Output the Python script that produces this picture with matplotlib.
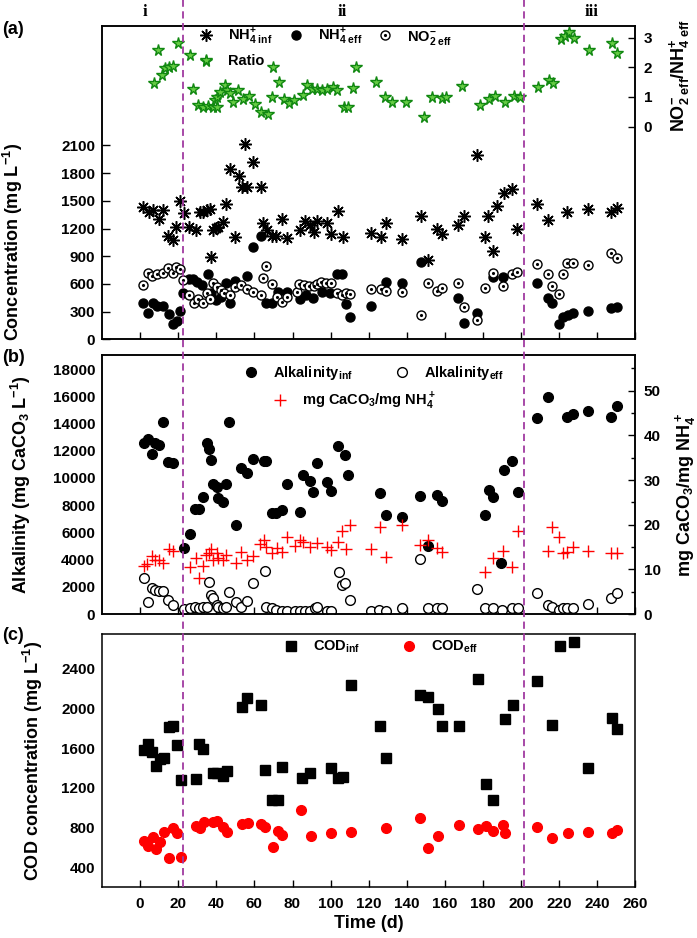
import numpy as np
import matplotlib.pyplot as plt
from matplotlib.lines import Line2D
from matplotlib.transforms import blended_transform_factory

plt.rcParams['font.family'] = ['Liberation Sans', 'DejaVu Sans']
plt.rcParams['font.weight'] = 'bold'
plt.rcParams['axes.labelweight'] = 'bold'
plt.rcParams['mathtext.fontset'] = 'custom'
plt.rcParams['mathtext.rm'] = 'Liberation Sans:bold'
plt.rcParams['mathtext.it'] = 'Liberation Sans:bold'
plt.rcParams['mathtext.bf'] = 'Liberation Sans:bold'
plt.rcParams['mathtext.default'] = 'regular'
plt.rcParams['axes.linewidth'] = 1.1

# ---- panel (a): ammonium / nitrite ----
nh4_inf_day = [1.7, 4.9, 7, 10.1, 12.2, 14.9, 17.1, 18.9, 21, 23.1, 25.9, 29.4, 31.5, 33.2, 35.3, 36.7,
               37.1, 38.1, 39.9, 41.1, 43.4, 45.1, 47.2, 49.8, 52.1, 53.3, 55.1, 55.9, 59.4, 63.3, 64.7,
               66.4, 69.1, 71.3, 74.3, 77.3, 83.9, 86.5, 89.2, 91.3, 93, 97.9, 100, 104, 106.3, 121,
               126.5, 129, 137.3, 147.3, 151.3, 156, 158.3, 167, 170, 177, 181, 182.8, 185.1, 187.2,
               191, 195.1, 198, 208.2, 214.3, 224.3, 235.3, 247, 250.1]
nh4_inf = [1431, 1384, 1402, 1301, 1402, 1120, 1077, 1222, 1493, 1366, 1222, 1185, 1384, 1384, 1402, 1413,
           889, 1185, 1211, 1222, 1276, 1467, 1843, 1106, 1764, 1648, 2118, 1655, 1923, 1655, 1265,
           1185, 1120, 1120, 1301, 1095, 1185, 1287, 1240, 1167, 1287, 1265, 1142, 1395, 1113, 1157,
           1113, 1258, 1084, 1337, 860, 1193, 1142, 1240, 1337, 1999, 1113, 1337, 961, 1446,
           1583, 1626, 1196, 1467, 1294, 1381, 1417, 1384, 1420]

nh4_eff_day = [1.7, 4.4, 6.6, 9.1, 11.9, 15.2, 17.1, 19.2, 21, 22.7, 25.9, 28, 30.1, 32.3, 35.8, 37.1,
               39.9, 42.3, 45.1, 47.2, 49.8, 55.9, 59.1, 63.3, 66.1, 69.1, 72.6, 76.9, 83.9, 87.1, 90.9,
               95.3, 99.7, 103.5, 105.8, 108, 110.1, 121, 129, 137.3, 147.3, 167, 170, 177, 185.4,
               190.3, 208.2, 214.3, 216.2, 220.1, 222.2, 224.8, 227.1, 235.3, 247, 250.1]
nh4_eff = [398, 282, 390, 361, 361, 275, 166, 202, 311, 506, 654, 651, 625, 589, 708, 499,
           426, 463, 607, 398, 636, 690, 1005, 1120, 390, 390, 517, 517, 434, 481, 445,
           517, 499, 708, 708, 383, 246, 361, 625, 607, 842, 445, 173, 289, 679,
           672, 607, 445, 390, 166, 239, 264, 282, 311, 336, 354]

no2_day = [1.7, 4, 6.1, 8.7, 12.2, 14.9, 17.1, 18.9, 21, 22.7, 25.9, 28.3, 30.6, 33.2, 35.3, 36.7,
           38.5, 40.6, 42.3, 44.1, 47.2, 49.8, 52.8, 55.9, 59.4, 63.3, 64.7, 66.1, 69.1, 72, 74.3,
           76.9, 82.2, 83.6, 86, 88.8, 91.3, 93, 94.8, 97.6, 100, 103.5, 105.8, 108, 110.1, 121,
           126.2, 129, 137.3, 147.3, 151.3, 156, 158.3, 167, 170, 177, 181, 185.4, 190.3, 195.1,
           198, 208.2, 214.3, 216.2, 220.1, 222.2, 224.3, 227.1, 235.3, 247, 250.1]
no2_eff = [589, 723, 687, 708, 723, 777, 723, 788, 759, 643, 481, 398, 434, 398, 506, 434,
           607, 571, 535, 506, 481, 571, 589, 542, 517, 481, 661, 795, 600, 463, 408,
           463, 517, 600, 589, 578, 578, 600, 625, 614, 614, 499, 481, 506, 488, 542,
           542, 524, 517, 264, 607, 528, 553, 607, 354, 210, 553, 723, 578, 708,
           734, 817, 708, 578, 492, 708, 824, 831, 802, 932, 885]

ratio_day = [7.5, 9.2, 11.3, 13.1, 15.3, 17.4, 20.1, 26.2, 27.9, 30.6, 33.2, 34.6, 35.8, 38.1, 39.3,
             40.2, 40.6, 42, 44.6, 45.4, 47.2, 48.9, 51.6, 54.2, 57.3, 60.3, 63.3, 67.3, 69.1, 69.9,
             73.1, 75.7, 78.3, 81, 85.3, 87.8, 90.1, 92.7, 95.3, 98.3, 101.4, 103.5, 107, 109.3,
             111.6, 113.3, 123.8, 128.6, 132, 139.6, 149, 153, 158.3, 160.6, 168.8, 178.5, 183.2,
             186.3, 191.6, 196.3, 199.4, 209.1, 214.8, 217, 220.8, 223.1, 225.2, 228, 235.7,
             247.6, 250.6]
ratio = [1.46, 2.59, 1.74, 1.97, 2.02, 2.04, 2.83, 2.41, 1.27, 0.73, 0.65, 2.23, 0.70, 0.65, 0.90,
         1.01, 0.65, 1.18, 1.40, 1.24, 1.13, 0.84, 1.24, 0.92, 1.03, 0.78, 0.51, 0.43, 1.01, 2.02,
         1.52, 0.92, 0.79, 0.90, 1.07, 1.41, 1.26, 1.26, 1.24, 1.26, 1.33, 1.24, 0.67, 0.67,
         1.29, 2.0, 1.52, 1.01, 0.82, 0.82, 0.32, 0.99, 0.96, 0.99, 1.37, 0.73, 0.92,
         1.03, 0.84, 1.03, 1.01, 1.33, 1.57, 1.46, 2.94, 3.06, 3.18, 2.98, 2.59,
         2.81, 2.49]

# ---- panel (b): alkalinity ----
alk_inf_day = [2, 4.3, 6.1, 7.8, 10.1, 12.2, 14.8, 17.1, 23, 26.2, 28.8, 31.1, 33.2, 35, 36.4, 37.1,
               38.1, 40.2, 41.1, 43.4, 45.1, 46.9, 50.4, 52.8, 56, 59.1, 65, 66.1, 69.1, 71.3, 74.3,
               76.9, 83.9, 85.7, 89.2, 91, 93, 97.9, 100, 104.1, 107.6, 109.3, 125.9, 129, 137.3,
               147, 151.3, 156, 158.3, 181.1, 183.3, 185.1, 189.3, 191.1, 195.1, 198.6, 208.2,
               214.3, 224, 227.1, 235, 247.1, 250.2]
alk_inf = [12539, 12857, 11731, 12539, 12392, 14131, 11192, 11069, 4824, 5878, 7690, 7690, 8571, 12539,
           12098, 11314, 9551, 9306, 8498, 8253, 9551, 14131, 6539, 10702, 10384, 11363, 11265, 11265,
           7396, 7396, 7641, 9551, 7518, 10212, 9796, 8988, 11069, 9722, 9061, 12343, 11682, 10212,
           8865, 7273, 7102, 8669, 5020, 8743, 8326, 7273, 9110, 8571, 3771, 10580, 11265, 8988,
           14376, 15967, 14449, 14694, 14939, 14449, 15282]

alk_eff_day = [2, 4.3, 6.1, 7.8, 10.1, 12.2, 14.8, 17.1, 23, 26.2, 28.8, 31.1, 33.2, 35, 36.4, 37.1,
               38.1, 40.2, 41.1, 43.4, 45.1, 46.9, 50.4, 52.8, 56, 59.1, 65.6, 66.1, 69.1, 71.3, 74.3,
               76.9, 81.3, 83.9, 86.6, 89.2, 91.9, 93, 97.9, 100, 104.3, 105.8, 107.8, 110.3, 121,
               125.6, 129, 137.3, 147, 151.3, 156, 158.3, 177, 181.1, 185.1, 190, 195.1, 198.6,
               208.2, 214.3, 216.1, 220.1, 222.2, 224, 227.1, 235, 247.1, 250.2]
alk_eff = [2620, 906, 1886, 1763, 1714, 1714, 1029, 661, 343, 416, 490, 416, 539, 539, 2376, 1396,
           1151, 661, 539, 416, 490, 1641, 906, 539, 980, 2253, 3184, 539, 416, 294, 245,
           245, 245, 245, 245, 245, 416, 539, 245, 245, 3110, 2150, 2280, 1050, 245,
           294, 245, 416, 4016, 416, 416, 416, 1812, 416, 416, 294, 416, 416,
           1567, 661, 539, 294, 416, 416, 416, 735, 1200, 1518]

alk_ratio_day = [2, 3.8, 6.1, 7.8, 10.1, 12.2, 15.3, 17.1, 26.2, 29.3, 31.1, 33.2, 34.6, 36.4, 37.1,
                 38.1, 40.2, 41.1, 43.4, 45.1, 50.4, 52.8, 56, 59.1, 62.9, 65, 66.1, 69.1, 71.7, 74.3,
                 76.9, 81.3, 83.9, 85.7, 89.2, 93, 97.9, 100, 104, 106, 108, 110, 121, 126, 129,
                 137.3, 147, 151.3, 156, 158.3, 181.1, 185.1, 190.3, 195.1, 198.6, 214.3, 216.1,
                 220.1, 222.2, 224.3, 227.1, 235, 247.1, 250.2]
alk_ratio = [10.8, 11.2, 12.9, 12.0, 12.0, 11.5, 14.5, 14.2, 10.5, 12.5, 8.0, 10.8, 13.2, 13.6, 14.5,
             12.1, 13.6, 12.5, 12.1, 13.2, 11.4, 14.0, 12.0, 12.9, 15.7, 16.6, 15.1, 13.6, 14.7, 13.8,
             17.3, 15.2, 16.6, 16.2, 15.1, 15.8, 15.1, 14.4, 16.2, 18.7, 14.5, 19.9, 14.5, 19.4, 12.7,
             19.9, 15.5, 16.6, 14.7, 14.0, 9.3, 12.5, 14.2, 10.6, 18.7, 14.2, 19.4,
             17.3, 13.6, 14.0, 15.1, 14.2, 13.6, 13.6]

# ---- panel (c): COD ----
cod_inf_day = [2, 4.3, 6.1, 8.3, 10.4, 12.5, 15.3, 17.1, 19.2, 21.3, 29.4, 31.1, 33.2, 38.1, 40.2,
               43.4, 45.4, 53.3, 56.3, 63.5, 65.6, 69.1, 72.6, 74.3, 84.8, 89.2, 100.2, 104.1, 106.3,
               110.5, 125.9, 129, 147, 151.3, 156.5, 158.7, 167.4, 177.6, 181.4, 185.4, 191.6,
               195.6, 208.5, 216.4, 220.4, 227.8, 235.3, 247.6, 250.5]
cod_inf = [1580, 1641, 1557, 1420, 1487, 1497, 1808, 1821, 1631, 1279, 1286, 1641, 1587, 1353, 1353,
           1320, 1373, 2008, 2099, 2032, 1380, 1079, 1079, 1407, 1303, 1346, 1403, 1303, 1306,
           2233, 1821, 1497, 2132, 2109, 1992, 1821, 1821, 2289, 1239, 1079, 1888,
           2032, 2273, 1831, 2627, 2667, 1403, 1898, 1791]

cod_eff_day = [2, 4.3, 6.6, 8.3, 10.4, 12.5, 15.3, 17.4, 19.5, 21.5, 29.4, 31.5, 33.6, 38.5, 40.6,
               43.4, 45.4, 53.3, 56.8, 63.5, 65.6, 69.6, 72.2, 74.7, 84.5, 89.6, 100.2, 110.5, 129,
               147, 151.3, 156.5, 167.4, 177.6, 181.4, 185.4, 190.3, 191.6, 208.5, 216.4, 224.5,
               235.3, 247.6, 250.5]
cod_eff = [671, 617, 704, 587, 661, 761, 500, 795, 744, 504, 818, 795, 861, 861, 868,
           811, 761, 835, 851, 835, 811, 611, 771, 728, 979, 718, 751, 761, 801,
           895, 600, 718, 831, 785, 818, 771, 825, 751, 811, 694, 751,
           761, 744, 778]

phase_bounds = [22.5, 201.5]
phase_names = ['i', 'ii', 'iii']
phase_label_x = [2.6, 106, 237]

fig = plt.figure(figsize=(6.97, 9.38), dpi=100)
left, right = 102 / 697, 635.4 / 697
ax_a = fig.add_axes([left, 0.6383, right - left, 0.3345])
ax_b = fig.add_axes([left, 0.3454, right - left, 0.2761])
ax_c = fig.add_axes([left, 0.0541, right - left, 0.2700])

# panel a
h_inf, = ax_a.plot(nh4_inf_day, nh4_inf, ls='none', marker=(8, 2, 0), ms=9, mew=1.1, color='black')
h_eff, = ax_a.plot(nh4_eff_day, nh4_eff, 'o', color='black', ms=6.5)
h_no2o, = ax_a.plot(no2_day, no2_eff, 'o', mfc='white', mec='black', mew=1, ms=6.5)
h_no2d, = ax_a.plot(no2_day, no2_eff, '.', color='black', ms=2.5)
ax_a.set_ylim(0, 3400)
ax_a.set_yticks(range(0, 2101, 300))
ax_a.set_ylabel('Concentration (mg L$^{-1}$)', fontsize=13)
ax_a.yaxis.set_label_coords(-0.145, 0.31)

ax_a2 = ax_a.twinx()
h_rat, = ax_a2.plot(ratio_day, ratio, '*', ms=8.5, mfc='#66cc44', mec='#118811', mew=1)
ax_a2.set_ylim(-7.17, 3.41)
ax_a2.set_yticks([0, 1, 2, 3])
ax_a2.set_ylabel('NO$_{2\\ eff}^{-}$/NH$_{4\\ eff}^{+}$', fontsize=13)
ax_a2.yaxis.set_label_coords(1.06, 0.84)
ax_a2.tick_params(axis='y', direction='in', length=5, width=1, labelsize=11, pad=6)
ax_a2.legend([h_inf, h_rat, h_eff, (h_no2o, h_no2d)],
             ['NH$_{4\\ inf}^{+}$', 'Ratio', 'NH$_{4\\ eff}^{+}$', 'NO$_{2\\ eff}^{-}$'],
             ncol=3, loc='upper left', bbox_to_anchor=(198.7 / 697, 1 - 26 / 938),
             bbox_transform=fig.transFigure, frameon=False, fontsize=10.5,
             handlelength=1.0, handletextpad=1.0, columnspacing=1.1,
             borderpad=0, borderaxespad=0, labelspacing=0.45)

# panel b
hb1, = ax_b.plot(alk_inf_day, alk_inf, 'o', color='black', ms=7)
hb2, = ax_b.plot(alk_eff_day, alk_eff, 'o', mfc='white', mec='black', mew=1, ms=7)
ax_b.set_ylim(0, 19030)
ax_b.set_yticks(range(0, 18001, 2000))
ax_b.set_ylabel('Alkalinity (mg CaCO$_3$ L$^{-1}$)', fontsize=13)
ax_b.yaxis.set_label_coords(-0.129, 0.5)

ax_b2 = ax_b.twinx()
hb3, = ax_b2.plot(alk_ratio_day, alk_ratio, '+', color='red', ms=8, mew=1)
ax_b2.set_ylim(0, 58)
ax_b2.set_yticks(range(0, 51, 10))
ax_b2.set_yticks(range(5, 56, 10), minor=True)
ax_b2.set_ylabel('mg CaCO$_3$/mg NH$_4^+$', fontsize=13)
ax_b2.yaxis.set_label_coords(1.07, 0.46)
ax_b2.tick_params(axis='y', which='major', direction='in', length=5, width=1, labelsize=11, pad=6)
ax_b2.tick_params(axis='y', which='minor', direction='in', length=3, width=1)
leg_b = ax_b2.legend([hb1, hb2], ['Alkalinity$_{inf}$', 'Alkalinity$_{eff}$'], ncol=2,
                     loc='upper left', bbox_to_anchor=(243.4 / 697, 1 - 364 / 938),
                     bbox_transform=fig.transFigure, frameon=False, fontsize=10.5,
                     handlelength=1.0, handletextpad=1.0, columnspacing=2.9,
                     borderpad=0, borderaxespad=0)
ax_b2.add_artist(leg_b)
ax_b2.legend([hb3], ['mg CaCO$_3$/mg NH$_4^+$'], loc='upper left',
             bbox_to_anchor=(272.7 / 697, 1 - 391 / 938), bbox_transform=fig.transFigure,
             frameon=False, fontsize=10.5, handlelength=1.0, handletextpad=1.0,
             borderpad=0, borderaxespad=0)

# panel c
hc1, = ax_c.plot(cod_inf_day, cod_inf, 's', color='black', ms=6.5)
hc2, = ax_c.plot(cod_eff_day, cod_eff, 'o', color='red', ms=7)
ax_c.set_ylim(203, 2744)
ax_c.set_yticks(range(400, 2401, 400))
ax_c.set_ylabel('COD concentration (mg L$^{-1}$)', fontsize=13)
ax_c.yaxis.set_label_coords(-0.107, 0.5)
ax_c.set_xlabel('Time (d)', fontsize=13, labelpad=3)
ax_c.legend([hc1, hc2], ['COD$_{inf}$', 'COD$_{eff}$'], ncol=2, loc='upper left',
            bbox_to_anchor=(283.4 / 697, 1 - 639 / 938), bbox_transform=fig.transFigure,
            frameon=False, fontsize=10.5, handlelength=1.0, handletextpad=1.0,
            columnspacing=2.9, borderpad=0, borderaxespad=0)

for ax in (ax_a, ax_b, ax_c):
    ax.set_xlim(-20, 260)
    ax.set_xticks(range(0, 261, 20))
    ax.tick_params(axis='x', direction='in', length=5, width=1, labelsize=11, pad=7)
    ax.tick_params(axis='y', direction='in', length=0, labelsize=11, pad=5)
ax_a.tick_params(axis='y', length=6, width=1)
ax_a.tick_params(axis='x', labelbottom=False)
ax_b.tick_params(axis='x', labelbottom=False)

# phase separators across the whole figure
trans = blended_transform_factory(ax_c.transData, fig.transFigure)
for xb in phase_bounds:
    fig.add_artist(Line2D([xb, xb], [0.0541, 1.0], transform=trans, color='#a03aa0',
                          lw=1.3, ls=(0, (4, 2.5))))
for name, xp in zip(phase_names, phase_label_x):
    fig.text(xp, 1 - 12 / 938, name, transform=trans, ha='center', va='center',
             fontsize=12, fontweight='bold', family='Liberation Serif')

for lab, yp in zip(['(a)', '(b)', '(c)'], [30, 358, 636]):
    fig.text(0.003, 1 - yp / 938, lab, ha='left', va='center', fontsize=13, fontweight='bold')

fig.savefig('out.png', dpi=100)
